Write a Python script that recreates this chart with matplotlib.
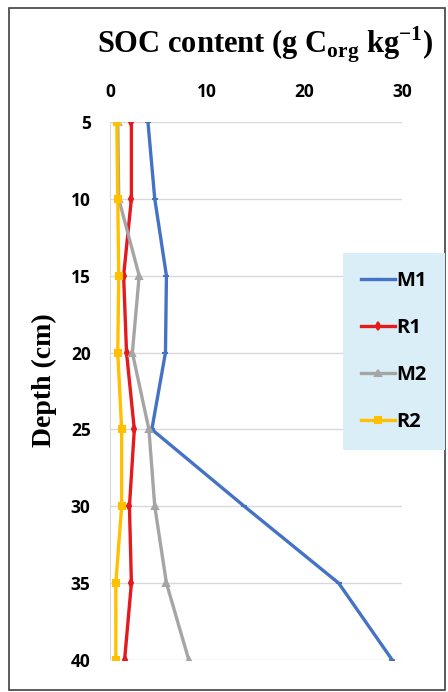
"""SOC content by depth profile."""

import matplotlib
matplotlib.use("Agg")
import matplotlib.pyplot as plt
from matplotlib.patches import Rectangle

# depth (cm) and SOC content (g C_org kg-1)
depth = [5, 10, 15, 20, 25, 30, 35, 40]
m1 = [3.9, 4.6, 5.8, 5.7, 4.3, 13.8, 23.5, 29.0]
r1 = [2.2, 2.2, 1.4, 1.7, 2.5, 2.0, 2.2, 1.5]
m2 = [0.8, 0.9, 3.0, 2.3, 4.0, 4.6, 5.8, 8.1]
r2 = [0.7, 0.8, 0.9, 0.8, 1.2, 1.2, 0.6, 0.6]
series_names = ["M1", "R1", "M2", "R2"]
x_ticks = [0, 10, 20, 30]

colors = ["#4472C4", "#E41A1C", "#A5A5A5", "#FFC000"]
markers = ["_", "d", "^", "s"]
msizes = [5, 4, 5, 5]

plt.rcParams["mathtext.fontset"] = "custom"
plt.rcParams["mathtext.rm"] = "Liberation Serif:bold"
plt.rcParams["mathtext.bf"] = "Liberation Serif:bold"

fig = plt.figure(figsize=(4.48, 6.92), dpi=100)
ax = fig.add_axes([0.2455, 0.0462, 0.6518, 0.7775])

for vals, name, c, m, ms in zip([m1, r1, m2, r2], series_names, colors, markers, msizes):
    ax.plot(vals, depth, color=c, lw=2.4, marker=m, ms=ms, mew=1.5, label=name)

ax.set_xlim(0, 30)
ax.set_ylim(40, 5)
ax.set_xticks(x_ticks)
ax.set_yticks(depth)
ax.xaxis.tick_top()
ax.tick_params(length=0, labelsize=12.5)
ax.tick_params(axis="x", pad=15)
ax.tick_params(axis="y", pad=14)
for lab in ax.get_xticklabels() + ax.get_yticklabels():
    lab.set_fontweight("bold")
    lab.set_family("Open Sans")
ax.grid(axis="y", color="#D9D9D9", lw=1)
ax.set_axisbelow(True)
for s in ["top", "right", "bottom"]:
    ax.spines[s].set_visible(False)
ax.spines["left"].set_color("#D9D9D9")

fig.text(0.592, 0.935, r"SOC content (g C$_{\mathbf{org}}$ kg$^{\mathbf{-1}}$)",
         ha="center", va="center", fontsize=22, family="Liberation Serif",
         fontweight="bold")
fig.text(0.1, 0.451, "Depth (cm)", rotation=90, ha="center", va="center",
         fontsize=20, family="Liberation Serif", fontweight="bold")

leg = fig.legend(loc="center", bbox_to_anchor=(0.879, 0.492), frameon=True,
                 fancybox=False, facecolor="#DAEEF8", edgecolor="none",
                 framealpha=1, prop={"family": "Open Sans", "weight": "bold", "size": 14.5},
                 labelspacing=1.35, handlelength=1.7, handletextpad=0.05,
                 borderpad=0.9, borderaxespad=0)

fig.patches.append(Rectangle((9 / 448, 2 / 692), 436 / 448, 682 / 692,
                             transform=fig.transFigure, fill=False,
                             edgecolor="#404040", lw=1.2))

fig.savefig("out.png", dpi=100)
